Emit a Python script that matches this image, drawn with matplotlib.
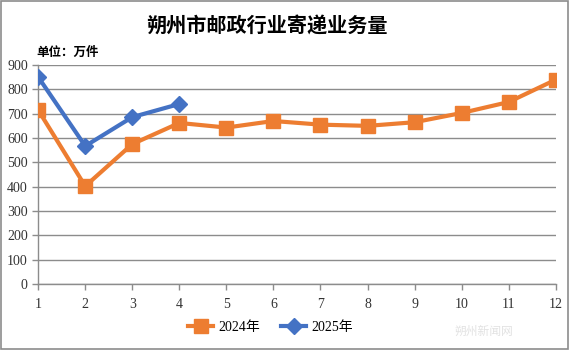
import matplotlib.pyplot as plt
from matplotlib.patches import Rectangle

plt.rcParams['font.family'] = ['Liberation Serif', 'Noto Sans CJK SC']

months = list(range(1, 13))
v2024 = [715, 402, 575, 662, 643, 670, 655, 650, 665, 703, 748, 840]
months_2025 = [1, 2, 3, 4]
v2025 = [851, 567, 686, 740]
yticks = list(range(0, 901, 100))

fig = plt.figure(figsize=(5.7, 3.5), dpi=100)
ax = fig.add_axes([0.067, 0.189, 0.908, 0.625])

ax.plot(months, v2024, color='#ED7D31', lw=3, marker='s', ms=10, label='2024年', zorder=3)
ax.plot(months_2025, v2025, color='#4472C4', lw=3, marker='D', ms=8, label='2025年', zorder=4)

ax.set_xlim(1, 12)
ax.set_ylim(0, 900)
ax.set_xticks(months)
ax.set_yticks(yticks)
ax.grid(axis='y', color='#8c8c8c', lw=1)
ax.set_axisbelow(True)
for s in ['top', 'right']:
    ax.spines[s].set_visible(False)
for s in ['left', 'bottom']:
    ax.spines[s].set_color('#8c8c8c')
    ax.spines[s].set_linewidth(1)
ax.tick_params(colors='#8c8c8c', labelcolor='#333333', labelsize=10, length=4, width=1)
ax.tick_params(axis='x', pad=6)

fig.text(0.468, 0.925, '朔州市邮政行业寄递业务量', ha='center', va='center',
         fontsize=14.5, fontweight='bold', family=['Noto Sans CJK SC'])
fig.text(0.063, 0.85, '单位：万件', ha='left', va='center', fontsize=9,
         fontweight='bold', family=['Noto Sans CJK SC'])
fig.text(0.9, 0.052, '朔州新闻网', ha='right', va='center', fontsize=8.5,
         color='#e2e2e2', family=['Noto Sans CJK SC'])

fig.legend(loc='center', bbox_to_anchor=(0.475, 0.065), ncol=2, frameon=False,
           handlelength=1.8, handletextpad=0.4, columnspacing=1.5,
           prop={'family': ['Liberation Serif', 'Noto Sans CJK SC'], 'size': 10})

fig.patches.append(Rectangle((0.002, 0.003), 0.995, 0.993, transform=fig.transFigure,
                             fill=False, edgecolor='#8c8c8c', lw=1.2))

fig.savefig('out.png', dpi=100)
